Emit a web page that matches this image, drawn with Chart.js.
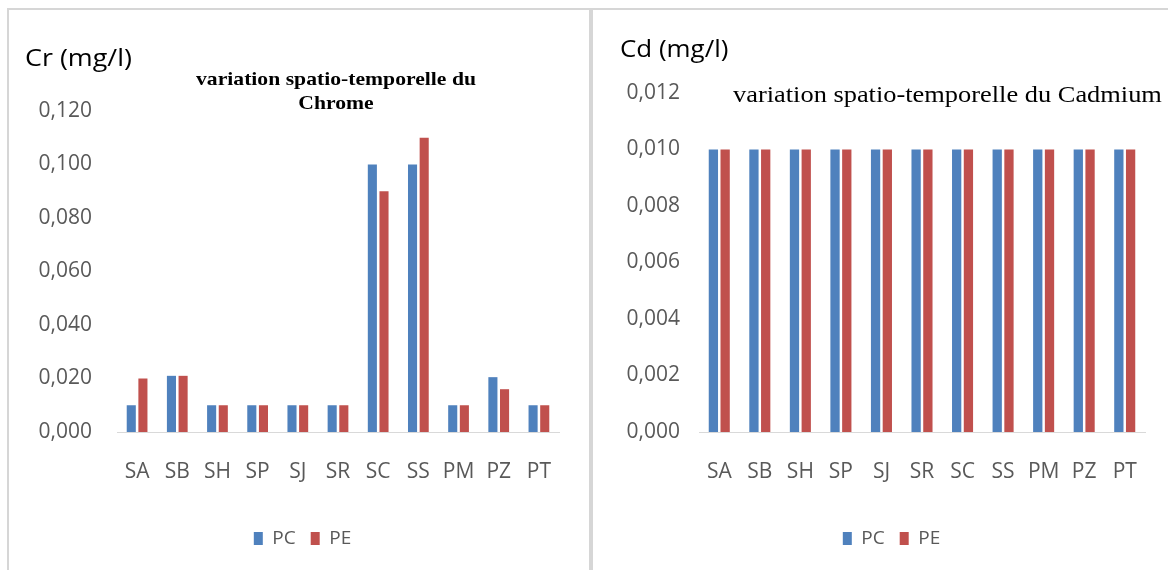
<!DOCTYPE html>
<html>
<head>
<meta charset="utf-8">
<script src="https://cdn.jsdelivr.net/npm/chart.js@4.4.1/dist/chart.umd.min.js"></script>
<style>
  html, body { margin: 0; padding: 0; background: #fff; }
  body { width: 1168px; height: 570px; position: relative; overflow: hidden; }
  .panel { position: absolute; border: 2px solid #d6d6d6; box-sizing: border-box; }
  #p1 { left: 7px; top: 8px; width: 584px; height: 600px; border-bottom: none; }
  #p2 { left: 591px; top: 8px; width: 620px; height: 600px; border-bottom: none; border-right: none; }
  canvas { position: absolute; top: 0; }
  #c1 { left: 0; }
  #c2 { left: 592px; }
  .ytitle { position: absolute; font-family: "Open Sans", sans-serif; font-size: 24px; color: #000; white-space: nowrap; transform-origin: left center; }
  .title { position: absolute; font-family: "Liberation Serif", serif; color: #000; white-space: nowrap; text-align: center; }
</style>
</head>
<body>
<div class="panel" id="p1"></div>
<div class="panel" id="p2"></div>
<canvas id="c1" width="590" height="570"></canvas>
<canvas id="c2" width="576" height="570"></canvas>
<div class="ytitle" style="left:25px; top:40px; transform: scaleX(1.12);">Cr (mg/l)</div>
<div class="ytitle" style="left:620px; top:31px; transform: scaleX(1.08);">Cd (mg/l)</div>
<div class="title" style="left:136px; width:400px; top:67px; font-size:19px; font-weight:bold; line-height:24px; transform: scaleX(1.14);">variation spatio-temporelle du<br>Chrome</div>
<div class="title" style="left:733px; top:81px; font-size:24px; transform-origin: left center; transform: scaleX(1.1);">variation spatio-temporelle du Cadmium</div>
<script>
// Sampling stations
const stations = ['SA', 'SB', 'SH', 'SP', 'SJ', 'SR', 'SC', 'SS', 'PM', 'PZ', 'PT'];

// Chromium (mg/l)
const chromePC = [0.010, 0.021, 0.010, 0.010, 0.010, 0.010, 0.100, 0.100, 0.010, 0.0205, 0.010];
const chromePE = [0.020, 0.021, 0.010, 0.010, 0.010, 0.010, 0.090, 0.110, 0.010, 0.016, 0.010];

// Cadmium (mg/l)
const cadmiumPC = [0.010, 0.010, 0.010, 0.010, 0.010, 0.010, 0.010, 0.010, 0.010, 0.010, 0.010];
const cadmiumPE = [0.010, 0.010, 0.010, 0.010, 0.010, 0.010, 0.010, 0.010, 0.010, 0.010, 0.010];

// Value axes
const chromeTicks = [0, 0.02, 0.04, 0.06, 0.08, 0.10, 0.12];
const cadmiumTicks = [0, 0.002, 0.004, 0.006, 0.008, 0.010, 0.012];

const BLUE = '#4F81BD';
const RED = '#C0504D';
const TICK_COLOR = '#595959';
const FONT = '"Open Sans", sans-serif';

function fmt(v) { return v.toFixed(3).replace('.', ','); }

// Moves the bottom legend sideways after layout so it sits under the whole panel
const legendShift = {
  id: 'legendShift',
  afterLayout(chart, args, opts) {
    const lg = chart.legend;
    if (lg && opts.dx) { lg.left += opts.dx; lg.right += opts.dx; }
  }
};

function makeChart(id, pc, pe, ticks, lay) {
  const PAD_B = lay.padB;
  return new Chart(document.getElementById(id), {
    type: 'bar',
    plugins: [legendShift],
    data: {
      labels: stations,
      datasets: [
        { label: 'PC', data: pc, backgroundColor: BLUE, categoryPercentage: lay.cat, barPercentage: lay.bar },
        { label: 'PE', data: pe, backgroundColor: RED, categoryPercentage: lay.cat, barPercentage: lay.bar }
      ]
    },
    options: {
      responsive: false,
      animation: false,
      events: [],
      layout: { padding: { left: 0, right: lay.padR, top: lay.top, bottom: PAD_B } },
      plugins: {
        title: { display: false },
        tooltip: { enabled: false },
        legendShift: { dx: lay.legendDx },
        legend: {
          position: 'bottom',
          labels: {
            boxWidth: 9, boxHeight: 13, padding: 15,
            color: TICK_COLOR,
            font: { family: FONT, size: 19 }
          }
        }
      },
      scales: {
        x: {
          grid: { display: false },
          border: { display: true, color: '#D9D9D9', width: 1 },
          ticks: { color: TICK_COLOR, font: { family: FONT, size: 21 }, padding: 19, maxRotation: 0, autoSkip: false },
          afterFit(s) {
            const c = s.chart;
            const lh = c.legend ? c.legend.height : 0;
            s.height = c.height - PAD_B - lh - lay.bottom;
          }
        },
        y: {
          min: ticks[0],
          max: ticks[ticks.length - 1],
          grid: { display: false, drawTicks: false },
          border: { display: false },
          afterBuildTicks(s) { s.ticks = ticks.map(v => ({ value: v })); },
          ticks: { color: TICK_COLOR, font: { family: FONT, size: 21 }, padding: lay.yPad, callback: v => fmt(v) },
          afterFit(s) { s.width = lay.yW; }
        }
      }
    }
  });
}

makeChart('c1', chromePC, chromePE, chromeTicks,
  { yW: 117, padR: 31, top: 111, bottom: 432, padB: 12, yPad: 25, cat: 0.58, bar: 0.78, legendDx: 23 });
makeChart('c2', cadmiumPC, cadmiumPE, cadmiumTicks,
  { yW: 107, padR: 23, top: 93, bottom: 432, padB: 12, yPad: 19, cat: 0.58, bar: 0.79, legendDx: 23 });
</script>
</body>
</html>
